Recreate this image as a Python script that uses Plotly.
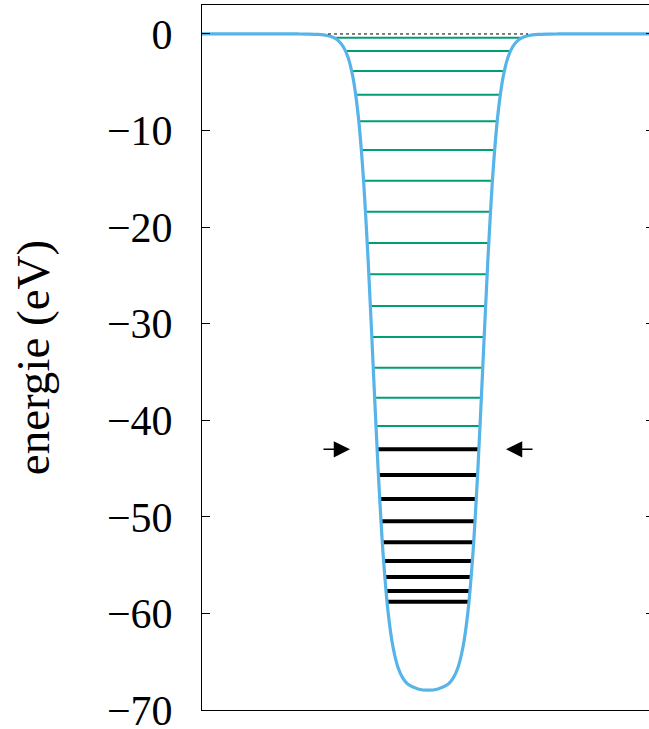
import plotly.graph_objects as go

# ---------------- data ----------------
# potential well: half-profile, r = distance from well centre (arbitrary units), V in eV
well_r = [0, 10, 20, 25, 30, 35, 40, 45, 50, 55, 60, 65, 70, 75, 80, 85, 90, 95, 100, 110, 120, 130, 226]
well_V = [-67.95, -67.82, -67.34, -66.73, -65.59, -63.48, -59.77, -53.68, -44.84, -34.0,
          -23.16, -14.32, -8.24, -4.52, -2.41, -1.27, -0.66, -0.34, -0.18, -0.05, -0.01, 0.0, 0.0]

# unoccupied / upper levels (green)
levels_green = [-0.38, -1.76, -3.83, -6.29, -9.04, -12.01, -15.19, -18.40, -21.64,
                -24.88, -28.17, -31.38, -34.56, -37.66, -40.59]
halfw_green = [92.5, 82.5, 76.0, 72.0, 69.0, 66.5, 64.3, 62.4, 60.7, 59.1, 57.5, 56.1, 54.7, 53.3, 52.0]

# occupied / deep levels (black)
levels_black = [-43.00, -45.67, -48.15, -50.46, -52.64, -54.57, -56.23, -57.68, -58.79]
halfw_black = [50.9, 49.6, 48.3, 47.0, 45.7, 44.4, 43.2, 42.0, 41.0]

zero_line_halfw = 100
y_ticks = [0, -10, -20, -30, -40, -50, -60, -70]
y_title = "energie (eV)"

# ---------------- build traces ----------------
x_left_edge, x_right_edge = -226, 221

# full well profile (mirror of the half-profile)
wx = [-r for r in reversed(well_r)] + well_r[1:]
wy = list(reversed(well_V)) + well_V[1:]
wx = [max(min(v, x_right_edge), x_left_edge) for v in wx]


def segments(levels, halfw):
    xs, ys = [], []
    for e, w in zip(levels, halfw):
        xs += [-w, w, None]
        ys += [e, e, None]
    return xs, ys


gx, gy = segments(levels_green, halfw_green)
bx, by = segments(levels_black, halfw_black)

fig = go.Figure()
fig.add_trace(go.Scatter(x=[-zero_line_halfw, zero_line_halfw], y=[0, 0], mode="lines",
                         line=dict(color="black", width=1, dash="dot"),
                         yaxis="y2", showlegend=False, hoverinfo="skip"))
fig.add_trace(go.Scatter(x=gx, y=gy, mode="lines",
                         line=dict(color="#009E73", width=2),
                         showlegend=False, hoverinfo="skip"))
fig.add_trace(go.Scatter(x=bx, y=by, mode="lines",
                         line=dict(color="black", width=4),
                         showlegend=False, hoverinfo="skip"))
fig.add_trace(go.Scatter(x=wx, y=wy, mode="lines", line_shape="spline",
                         line=dict(color="#56B4E9", width=3.2, smoothing=0.8),
                         showlegend=False, hoverinfo="skip"))

# arrows marking the highest deep level
arrow_tip, arrow_tail = 78, 106
for tip, tail in [(-arrow_tip, -arrow_tail), (arrow_tip, arrow_tail)]:
    fig.add_annotation(x=tip, y=levels_black[0], ax=tail, ay=levels_black[0],
                       xref="x", yref="y", axref="x", ayref="y",
                       text="", showarrow=True, arrowhead=2, arrowsize=2.5,
                       arrowwidth=1.3, arrowcolor="black", standoff=0)

font_family = "Liberation Serif, Times New Roman, serif"

fig.update_layout(
    width=649, height=729,
    margin=dict(l=202, r=0, t=5, b=19, autoexpand=False),
    paper_bgcolor="white", plot_bgcolor="white",
    font=dict(family=font_family, color="black"),
    xaxis=dict(range=[x_left_edge, x_right_edge], showgrid=False, zeroline=False,
               showticklabels=False, ticks="", showline=True, linecolor="black",
               linewidth=1, mirror=True, automargin=False),
    yaxis=dict(range=[-70, 3], tickvals=y_ticks, showgrid=False, zeroline=False,
               ticks="inside", ticklen=8, tickcolor="black", tickwidth=1,
               showline=True, linecolor="black", linewidth=1, mirror=False,
               tickfont=dict(size=42, family=font_family),
               ticklabelstandoff=20, ticklabeloverflow="allow", automargin=False,
               title=dict(text=y_title, font=dict(size=47, family=font_family), standoff=42)),
    yaxis2=dict(range=[-70, 3], overlaying="y", side="right", anchor="x",
                tickvals=y_ticks, showgrid=False, zeroline=False,
                ticks="inside", ticklen=3, tickcolor="black", tickwidth=1,
                showticklabels=False, showline=False, automargin=False),
)

fig.write_html(
    "out.html",
    config={"displayModeBar": False, "staticPlot": True},
    post_script="document.body.style.margin='0';document.body.style.overflow='hidden';",
)
